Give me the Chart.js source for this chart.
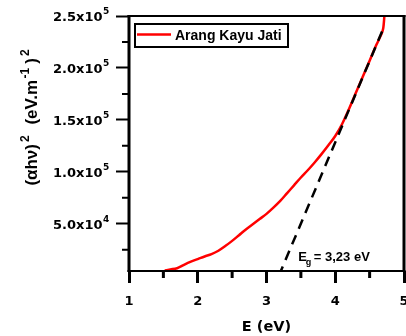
<!DOCTYPE html>
<html><head><meta charset="utf-8">
<script src="https://cdn.jsdelivr.net/npm/chart.js@4.4.1/dist/chart.umd.min.js"></script>
<style>html,body{margin:0;padding:0;background:#fff;overflow:hidden}canvas{display:block}</style>
</head><body>
<canvas id="c" width="406" height="336"></canvas>
<script>
// ---- data ----
const energy = [1.52,1.6,1.7,1.8,1.9,2.0,2.1,2.2,2.3,2.4,2.5,2.6,2.7,2.8,2.9,3.0,3.1,3.2,3.3,3.4,3.5,3.6,3.7,3.8,3.9,4.0,4.1,4.2,4.3,4.4,4.5,4.6,4.65,4.69,4.70,4.71,4.72];
const alphaHv2 = [5000,6000,7200,10500,13500,16000,18500,20700,24000,28500,33500,39000,44500,49500,54500,59500,65500,72000,79500,87000,94500,101500,109000,117000,125500,134500,146000,160500,176000,191500,207000,222500,229500,236000,239000,246000,256000];
const tangentEnergy = [3.18, 4.69];
const tangentValue = [0, 236500];
const xMajorTicks = [1,2,3,4,5];
const xMinorTicks = [1.5,2.5,3.5,4.5];
const yMajorTicks = [50000,100000,150000,200000,250000];
const yMinorTicks = [25000,75000,125000,175000,225000];
const seriesName = 'Arang Kayu Jati';
const gapMain = 'E', gapSub = 'g', gapRest = '= 3,23 eV';
const xTitle = 'E (eV)';
const yTitleParts = [['(\u03B1h\u03BD)',0],['2',1],[' ',0],['(eV.m',0],['-1',1],[')',0],['2',1]];

const AX = '"DejaVu Sans", sans-serif';
const AR = '"Liberation Sans", Arial, sans-serif';

const extras = {
  id: 'extras',
  afterDatasetsDraw(chart) {
    const {ctx, chartArea: a, scales: {x, y}} = chart;
    ctx.save();
    ctx.strokeStyle = '#000';
    ctx.fillStyle = '#000';
    // frame
    ctx.lineWidth = 2;
    ctx.beginPath();
    ctx.moveTo(a.left - 1.5, a.top); ctx.lineTo(a.right + 1.5, a.top);
    ctx.moveTo(a.left - 1.5, a.bottom); ctx.lineTo(a.right + 1.5, a.bottom);
    ctx.stroke();
    ctx.lineWidth = 3;
    ctx.beginPath();
    ctx.moveTo(a.left, a.top - 1); ctx.lineTo(a.left, a.bottom + 1);
    ctx.moveTo(a.right, a.top - 1); ctx.lineTo(a.right, a.bottom + 1);
    ctx.stroke();
    // minor ticks
    ctx.lineWidth = 2;
    ctx.beginPath();
    yMinorTicks.forEach(v => { const p = y.getPixelForValue(v); ctx.moveTo(a.left, p); ctx.lineTo(a.left - 7, p); });
    ctx.stroke();
    ctx.lineWidth = 3;
    ctx.beginPath();
    xMinorTicks.forEach(v => { const p = x.getPixelForValue(v); ctx.moveTo(p, a.bottom); ctx.lineTo(p, a.bottom + 7); });
    ctx.stroke();
    // y tick labels with superscript exponent
    yMajorTicks.forEach(v => {
      const p = y.getPixelForValue(v);
      const exp = Math.floor(Math.log10(v));
      const mant = (v / Math.pow(10, exp)).toFixed(1);
      ctx.font = 'bold 13px ' + AX;
      ctx.textAlign = 'right'; ctx.textBaseline = 'alphabetic';
      ctx.fillText(mant + 'x10', a.left - 26.5, p + 4.8);
      ctx.font = 'bold 9px ' + AX;
      ctx.textAlign = 'left';
      ctx.fillText(String(exp), a.left - 26, p - 2.2);
    });
    // y axis title (rotated)
    ctx.save();
    const mainF = 'bold 17px ' + AR, supF = 'bold 12px ' + AR;
    const extra = [2, 3, 3, 1.5, 4, 2, 0];
    let total = 0;
    const widths = yTitleParts.map(([t, s], i) => { ctx.font = s ? supF : mainF; const w = ctx.measureText(t).width + extra[i]; total += w; return w; });
    ctx.translate(36.5, (a.top + a.bottom) / 2 - 26 + total / 2);
    ctx.rotate(-Math.PI / 2);
    ctx.textAlign = 'left'; ctx.textBaseline = 'alphabetic';
    let pos = 0;
    yTitleParts.forEach(([t, s], i) => {
      ctx.font = s ? supF : mainF;
      ctx.fillText(t, pos, s ? -7.5 : 0);
      pos += widths[i];
    });
    ctx.restore();
    // legend box
    const lx = a.left + 6, ly = a.top + 8;
    ctx.lineWidth = 2;
    ctx.strokeRect(lx, ly, 153, 23);
    ctx.strokeStyle = chart.data.datasets[0].borderColor;
    ctx.lineWidth = 2.5;
    ctx.beginPath(); ctx.moveTo(lx + 2, ly + 10.5); ctx.lineTo(lx + 36, ly + 10.5); ctx.stroke();
    ctx.font = 'bold 14px ' + AR;
    ctx.textAlign = 'left'; ctx.textBaseline = 'alphabetic';
    ctx.fillText(chart.data.datasets[0].label, lx + 40, ly + 16);
    // band gap annotation
    const ex = x.getPixelForValue(3.46), ey = y.getPixelForValue(14500);
    ctx.font = 'bold 13px ' + AR;
    ctx.fillText(gapMain, ex, ey);
    const ew = ctx.measureText(gapMain).width;
    ctx.font = 'bold 9px ' + AR;
    ctx.fillText(gapSub, ex + ew - 1, ey + 4.5);
    const gw = ctx.measureText(gapSub).width;
    ctx.font = 'bold 13px ' + AR;
    ctx.fillText(gapRest, ex + ew + gw + 1.5, ey);
    ctx.restore();
  }
};

new Chart(document.getElementById('c').getContext('2d'), {
  type: 'line',
  data: {
    datasets: [
      { label: seriesName, data: energy.map((e, i) => ({x: e, y: alphaHv2[i]})),
        borderColor: '#ff0000', borderWidth: 2.5, pointRadius: 0, cubicInterpolationMode: 'monotone', order: 2 },
      { label: 'tangent', data: tangentEnergy.map((e, i) => ({x: e, y: tangentValue[i]})),
        borderColor: '#000000', borderWidth: 2.5, borderDash: [10, 7], pointRadius: 0, order: 1 }
    ]
  },
  options: {
    responsive: false, animation: false, devicePixelRatio: 1,
    layout: {padding: {top: 16, right: 2, left: 0, bottom: 0}},
    plugins: {legend: {display: false}, tooltip: {enabled: false}},
    scales: {
      x: {
        type: 'linear', min: 1, max: 5,
        afterBuildTicks: s => { s.ticks = xMajorTicks.map(v => ({value: v})); },
        afterFit: s => { s.height = 65; s.paddingLeft = 0; s.paddingRight = 0; },
        grid: {drawOnChartArea: false, drawTicks: true, tickLength: 12, tickWidth: 3, tickColor: '#000'},
        border: {display: false},
        ticks: {font: {family: 'DejaVu Sans', weight: 'bold', size: 13}, color: '#000', padding: 11, maxRotation: 0, autoSkip: false},
        title: {display: true, text: xTitle, color: '#000', font: {family: 'DejaVu Sans', weight: 'bold', size: 14.5}, padding: {top: 1, bottom: 0}}
      },
      y: {
        type: 'linear', min: 4500, max: 250000,
        afterBuildTicks: s => { s.ticks = yMajorTicks.map(v => ({value: v})); },
        afterFit: s => { s.width = 129; s.paddingTop = 0; s.paddingBottom = 0; },
        grid: {drawOnChartArea: false, drawTicks: true, tickLength: 13, tickWidth: 2, tickColor: '#000'},
        border: {display: false},
        ticks: {display: false}
      }
    }
  },
  plugins: [extras]
});
</script>
</body></html>
